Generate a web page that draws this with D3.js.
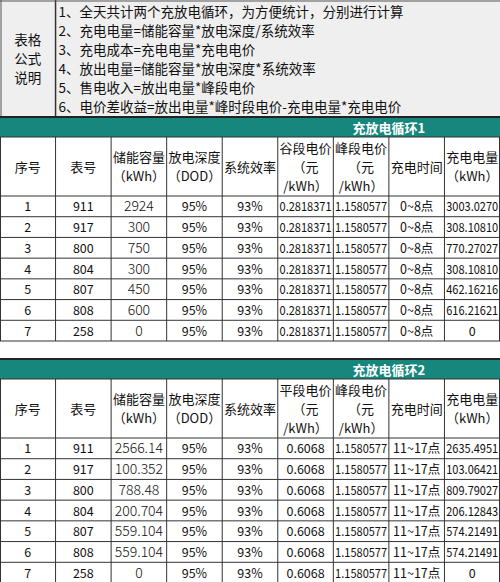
<!DOCTYPE html><html><head><meta charset="utf-8"><script src="https://cdn.jsdelivr.net/npm/d3@7"></script>
<style>body{margin:0;background:#fff}text{font-family:"Noto Sans CJK SC",sans-serif;fill:#111}</style></head><body><svg id="c" width="500" height="582"></svg><script>
const notes=["1、全天共计两个充放电循环，为方便统计，分别进行计算","2、充电电量=储能容量*放电深度/系统效率","3、充电成本=充电电量*充电电价","4、放出电量=储能容量*放电深度*系统效率","5、售电收入=放出电量*峰段电价","6、电价差收益=放出电量*峰时段电价-充电电量*充电电价"];
const headers1=[["序号"],["表号"],["储能容量","（kWh）"],["放电深度","（DOD）"],["系统效率"],["谷段电价","（元","/kWh）"],["峰段电价","（元","/kWh）"],["充电时间"],["充电电量","（kWh）"]];
const headers2=[["序号"],["表号"],["储能容量","（kWh）"],["放电深度","（DOD）"],["系统效率"],["平段电价","（元","/kWh）"],["峰段电价","（元","/kWh）"],["充电时间"],["充电电量","（kWh）"]];
const ids=["1","2","3","4","5","6","7"];
const meters=["911","917","800","804","807","808","258"];
const cap1=["2924","300","750","300","450","600","0"];
const cap2=["2566.14","100.352","788.48","200.704","559.104","559.104","0"];
const price1="0.2818371",price2="0.6068",peak="1.1580577";
const charge1=["3003.0270","308.10810","770.27027","308.10810","462.16216","616.21621","0"];
const charge2=["2635.4951","103.06421","809.79027","206.12843","574.21491","574.21491","0"];
const svg=d3.select("#c");
const x=d3.scaleLinear().domain([0,9]).range([0,500]);
const teal="#17877d";
svg.append("rect").attr("x",0).attr("y",0).attr("width",500).attr("height",117).attr("fill","#efefef");
svg.append("line").attr("x1",x(1)).attr("x2",x(1)).attr("y1",0).attr("y2",117).attr("stroke","#333").attr("stroke-width",1.5);
svg.append("line").attr("x1",0).attr("x2",500).attr("y1",1).attr("y2",1).attr("stroke","#555");
svg.append("line").attr("x1",1).attr("x2",1).attr("y1",0).attr("y2",117).attr("stroke","#555");
const ny=d3.scaleBand().domain(d3.range(6)).range([2,117]);
svg.selectAll(".n").data(notes).join("text").attr("x",x(1)+3).attr("y",(d,i)=>ny(i)+ny.bandwidth()/2+5).attr("font-size",13.5).text(d=>d);
["表格","公式","说明"].forEach((t,i)=>svg.append("text").attr("x",x(0.5)).attr("y",45+i*19).attr("text-anchor","middle").attr("font-size",13.5).text(t));
function section(top,title,headers,rows){
  svg.append("rect").attr("x",0).attr("y",top-2).attr("width",500).attr("height",3).attr("fill","#222");
  svg.append("rect").attr("x",0).attr("y",top).attr("width",500).attr("height",19).attr("fill",teal);
  svg.append("text").attr("x",x(7)).attr("y",top+15).attr("text-anchor","middle").attr("font-size",13).attr("font-weight","bold").style("fill","#fff").text(title);
  const hTop=top+19,hBot=hTop+59,end=hBot+145;
  const y=d3.scaleBand().domain(d3.range(7)).range([hBot,end]);
  headers.forEach((h,j)=>{
    const n=h.length, cy=(hTop+hBot)/2;
    h.forEach((t,k)=>svg.append("text").attr("x",x(j+0.5)).attr("y",cy+5+(k-(n-1)/2)*19).attr("text-anchor","middle").attr("font-size",13).text(t));
  });
  rows.forEach((r,i)=>r.forEach((t,j)=>{
    const el=svg.append("text").attr("x",x(j+0.5)).attr("y",y(i)+y.bandwidth()/2+5)
    .attr("text-anchor","middle").attr("font-size",j==2?14:12.5).attr("font-weight",j==2?"300":"normal").text(t);
    if(el.node().getComputedTextLength()>52) el.attr("textLength",52).attr("lengthAdjust","spacingAndGlyphs");
  }));
  const g=svg.append("g").attr("stroke","#333").attr("stroke-width",1);
  d3.range(0,10).forEach(j=>g.append("line").attr("x1",Math.min(499.5,Math.max(0.5,x(j)))).attr("x2",Math.min(499.5,Math.max(0.5,x(j)))).attr("y1",hTop).attr("y2",end));
  [hTop,hBot,...d3.range(1,8).map(i=>y(i-1)+y.bandwidth())].forEach(v=>g.append("line").attr("x1",0).attr("x2",500).attr("y1",v).attr("y2",v));
}
section(118,"充放电循环1",headers1,ids.map((d,i)=>[d,meters[i],cap1[i],"95%","93%",price1,peak,"0~8点",charge1[i]]));
section(360,"充放电循环2",headers2,ids.map((d,i)=>[d,meters[i],cap2[i],"95%","93%",price2,peak,"11~17点",charge2[i]]));
</script></body></html>
